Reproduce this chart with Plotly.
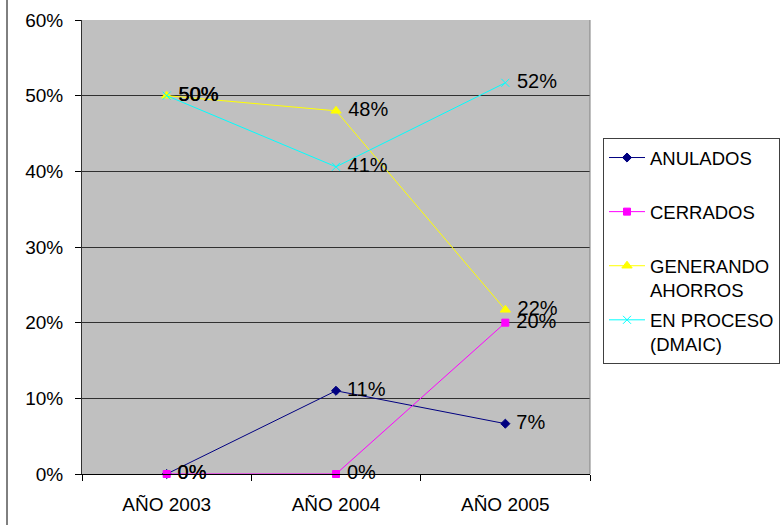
import plotly.graph_objects as go

categories = ["AÑO 2003", "AÑO 2004", "AÑO 2005"]
anulados = [0.0, 0.11, 0.0665]
cerrados = [0.0, 0.0, 0.20]
generando = [0.50, 0.48, 0.217]
en_proceso = [0.50, 0.406, 0.517]
series_names = ["ANULADOS<br> ", "CERRADOS<br> ", "GENERANDO<br>AHORROS", "EN PROCESO<br>(DMAIC)"]
y_ticks = [0, 0.1, 0.2, 0.3, 0.4, 0.5, 0.6]
y_tick_labels = ["0%", "10%", "20%", "30%", "40%", "50%", "60%"]

styles = [
    dict(color="#000080", symbol="diamond", size=7),
    dict(color="#FF00FF", symbol="square", size=7),
    dict(color="#FFFF00", symbol="triangle-up", size=9),
    dict(color="#00FFFF", symbol="x-thin-open", size=8),
]

FONT = "Liberation Sans, Arial, sans-serif"
fig = go.Figure()
for name, vals, st in zip(series_names, [anulados, cerrados, generando, en_proceso], styles):
    fig.add_trace(go.Scatter(
        x=categories, y=vals, name=name, legendgroup=name,
        mode="lines+markers+text",
        line=dict(color=st["color"], width=1),
        marker=dict(color=st["color"], symbol=st["symbol"], size=st["size"],
                    line=dict(color=st["color"], width=1)),
        texttemplate=" %{y:.0%}", textposition="middle right",
        textfont=dict(family=FONT, size=20, color="black"),
        cliponaxis=False,
    ))

W, H = 783, 525
L, R, T, B = 82, 193, 20, 51
pw, ph = W - L - R, H - T - B

fig.update_layout(
    width=W, height=H,
    margin=dict(l=L, r=R, t=T, b=B, pad=0, autoexpand=False),
    paper_bgcolor="white", plot_bgcolor="#C0C0C0",
    font=dict(family=FONT, size=19, color="black"),
    showlegend=True,
    legend=dict(
        x=(603 - L) / pw, y=(474 - 138) / ph, xanchor="left", yanchor="top",
        bgcolor="white", bordercolor="#404040", borderwidth=1,
        font=dict(family=FONT, size=18.5, color="black"),
        tracegroupgap=3, itemwidth=36, valign="top",
    ),
    xaxis=dict(
        type="category", range=[-0.5, 2.5], tickson="boundaries",
        ticks="outside", ticklen=6, tickcolor="black",
        showline=True, linecolor="black", linewidth=1,
        showgrid=False, zeroline=False,
        tickfont=dict(family=FONT, size=19, color="black"),
        ticklabelstandoff=13,
    ),
    yaxis=dict(
        range=[0, 0.6], tickvals=y_ticks, ticktext=y_tick_labels,
        ticks="outside", ticklen=6, tickcolor="black",
        showline=True, linecolor="#303030", linewidth=1,
        showgrid=True, gridcolor="#303030", gridwidth=1,
        zeroline=False,
        tickfont=dict(family=FONT, size=19, color="black"),
        ticklabelstandoff=8,
    ),
    shapes=[
        dict(type="line", xref="paper", yref="paper", x0=1, x1=1, y0=0, y1=1,
             line=dict(color="#808080", width=1)),
        dict(type="line", xref="paper", yref="paper",
             x0=(7 - L) / pw, x1=(7 - L) / pw, y0=-0.2, y1=1.2,
             line=dict(color="black", width=1)),
    ],
)

fig.write_html("out.html")
